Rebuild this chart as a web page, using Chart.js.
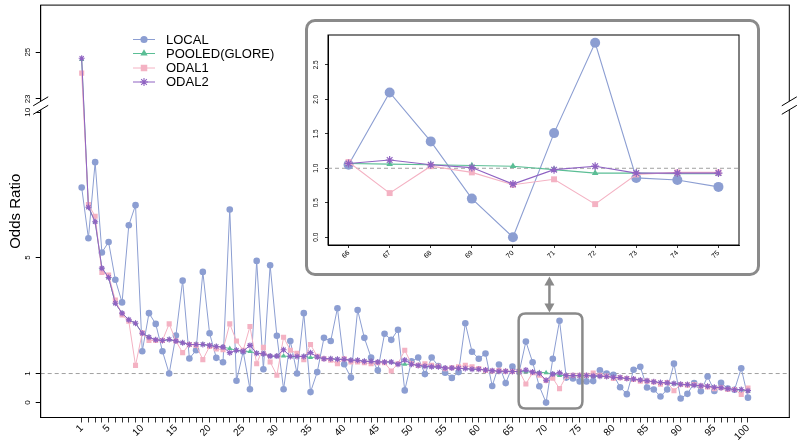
<!DOCTYPE html>
<html><head><meta charset="utf-8">
<script src="https://cdn.jsdelivr.net/npm/chart.js@4.4.1/dist/chart.umd.min.js"></script>
<style>
html,body{margin:0;padding:0;background:#fff;}
#wrap{position:relative;width:800px;height:440px;overflow:hidden;}
#main{position:absolute;left:0;top:0;}
#insetBox{position:absolute;left:305px;top:19px;width:455px;height:257px;box-sizing:border-box;border:3px solid #8a8a8a;border-radius:10px;background:#fff;}
#inset{display:block;}
</style></head>
<body>
<div id="wrap">
<canvas id="main" width="800" height="440"></canvas>
<div id="insetBox"><canvas id="inset" width="449" height="251"></canvas></div>
</div>
<script>
// ---------- DATA ----------
const caseIndex = Array.from({length:100},(_,i)=>i+1);
const xTickLabels = [1,5,10,15,20,25,30,35,40,45,50,55,60,65,70,75,80,85,90,95,100];
const yTickLabels = [0,1,5,10,23,25];
const insetCases = [66,67,68,69,70,71,72,73,74,75];
const insetYTicks = [0,0.5,1,1.5,2,2.5];
const seriesNames = ['LOCAL','POOLED(GLORE)','ODAL1','ODAL2'];

const LOCAL = [7.41,5.66,8.28,5.17,5.53,4.23,3.45,6.11,6.80,1.77,
 3.08,2.71,1.77,1.00,2.31,4.20,1.52,1.80,4.50,2.39,
 1.54,1.39,6.65,0.75,1.76,0.46,4.88,1.15,4.73,2.30,
 0.46,2.12,1.00,3.08,0.36,1.05,2.23,2.12,3.25,1.32,
 0.86,3.19,2.23,1.55,1.11,2.37,2.16,2.51,0.42,1.42,
 1.55,0.98,1.55,1.26,1.03,0.85,1.05,2.73,1.75,1.51,
 1.69,0.57,1.31,0.67,1.24,1.05,2.10,1.39,0.56,0.00,
 1.51,2.82,0.86,0.83,0.73,0.73,0.74,1.11,1.00,0.96,
 0.53,0.29,1.13,1.23,0.52,0.45,0.21,0.45,1.34,0.14,
 0.30,0.67,0.39,0.90,0.40,0.68,0.48,0.44,1.18,0.17];

const POOLED = [24.69,6.73,6.23,4.63,4.31,3.42,3.08,2.85,2.73,2.39,
 2.25,2.16,2.14,2.17,2.12,2.06,2.00,2.00,2.00,1.97,
 1.93,1.91,1.86,1.80,1.77,1.76,1.70,1.68,1.60,1.60,
 1.60,1.59,1.59,1.59,1.55,1.57,1.51,1.51,1.49,1.49,
 1.46,1.46,1.42,1.42,1.40,1.40,1.40,1.32,1.32,1.32,
 1.28,1.25,1.23,1.23,1.19,1.19,1.18,1.17,1.15,1.15,
 1.12,1.10,1.08,1.08,1.07,1.07,1.06,1.05,1.04,1.03,
 0.98,0.93,0.93,0.92,0.92,0.92,0.91,0.90,0.89,0.86,
 0.85,0.82,0.80,0.77,0.74,0.71,0.68,0.67,0.65,0.62,
 0.61,0.59,0.57,0.55,0.52,0.50,0.47,0.44,0.44,0.40];

const ODAL1 = [24.10,6.82,6.42,4.48,4.39,3.53,3.02,2.80,1.28,2.40,
 2.14,2.14,2.14,2.71,2.12,1.72,2.00,1.97,1.48,1.93,
 1.85,1.82,2.71,2.12,1.80,2.62,1.34,1.90,1.40,0.94,
 2.25,1.80,1.70,1.48,2.00,1.59,1.51,1.46,1.34,1.51,
 1.40,1.40,1.37,1.34,1.37,1.37,1.09,1.34,1.80,1.34,
 1.28,1.34,1.28,1.25,1.17,1.20,1.23,1.28,1.23,1.17,
 1.11,1.09,1.11,1.08,1.07,1.09,0.64,1.03,0.94,0.76,
 0.84,0.48,0.91,0.94,0.94,0.94,1.02,0.94,0.91,0.83,
 0.86,0.83,0.80,0.74,0.74,0.71,0.63,0.69,0.41,0.62,
 0.60,0.62,0.57,0.54,0.48,0.51,0.45,0.45,0.28,0.50];

const ODAL2 = [24.74,6.73,6.23,4.63,4.31,3.42,3.08,2.85,2.73,2.39,
 2.25,2.16,2.14,2.17,2.12,2.06,2.00,2.00,2.00,1.97,
 1.93,1.91,1.72,1.80,1.77,1.97,1.70,1.68,1.60,1.60,
 1.82,1.59,1.59,1.59,1.72,1.57,1.51,1.51,1.49,1.49,
 1.46,1.46,1.42,1.42,1.40,1.40,1.40,1.32,1.47,1.32,
 1.28,1.25,1.23,1.23,1.19,1.19,1.18,1.17,1.15,1.15,
 1.12,1.10,1.08,1.08,1.07,1.07,1.12,1.05,1.01,0.77,
 0.98,1.03,0.93,0.93,0.93,0.93,0.92,0.91,0.90,0.87,
 0.86,0.83,0.81,0.78,0.75,0.72,0.69,0.68,0.66,0.63,
 0.62,0.60,0.58,0.56,0.53,0.51,0.48,0.44,0.45,0.41];

// ---------- STYLE ----------
const FONT = '"Liberation Sans", Arial, Helvetica, sans-serif';
const COLORS = ['#8C9ED2', '#5BBE95', '#F4B2C3', '#8F62C2'];
const STYLES = ['circle', 'triangle', 'rect', 'star'];
const ORDERS = [4, 3, 2, 1];

// broken y-axis mapping (gap between 10 and 23)
const BREAK_LOW = 10, BREAK_HIGH = 23, GAP = 0.46, UPPER_SCALE = 0.805;
function toDisplay(v){ return v <= BREAK_LOW ? v : BREAK_LOW + GAP + (v - BREAK_HIGH) * UPPER_SCALE; }

const allSeries = [LOCAL, POOLED, ODAL1, ODAL2];

function drawMarker(ctx, style, radius, x, y, color, bw){
  ctx.save();
  ctx.fillStyle = color; ctx.strokeStyle = color; ctx.lineWidth = bw;
  if (Chart.helpers && Chart.helpers.drawPoint) {
    Chart.helpers.drawPoint(ctx, {pointStyle: style, radius: radius, rotation: 0, borderWidth: bw}, x, y);
  } else {
    ctx.beginPath(); ctx.arc(x, y, radius, 0, Math.PI*2); ctx.fill();
  }
  ctx.restore();
}

function rotatedYLabels(chart, values, labels, xCenter, font){
  const ctx = chart.ctx, ys = chart.scales.y;
  ctx.save(); ctx.fillStyle = '#000'; ctx.font = font;
  ctx.textAlign = 'center'; ctx.textBaseline = 'middle';
  values.forEach((v, i) => {
    ctx.save(); ctx.translate(xCenter, ys.getPixelForValue(v)); ctx.rotate(-Math.PI/2);
    ctx.fillText(String(labels[i]), 0, 0); ctx.restore();
  });
  ctx.restore();
}

function dashedOne(chart){
  const ctx = chart.ctx, a = chart.chartArea, py = chart.scales.y.getPixelForValue(1);
  ctx.save(); ctx.strokeStyle = '#a0a0a0'; ctx.lineWidth = 1; ctx.setLineDash([4,3]);
  ctx.beginPath(); ctx.moveTo(a.left, py); ctx.lineTo(a.right, py); ctx.stroke(); ctx.restore();
}

function drawBreak(ctx, x, yc){
  ctx.save();
  ctx.fillStyle = '#fff';
  ctx.beginPath();
  ctx.moveTo(x-7.5, yc-4.25+4.5); ctx.lineTo(x+7.5, yc-4.25-4.5);
  ctx.lineTo(x+7.5, yc+4.25-4.5); ctx.lineTo(x-7.5, yc+4.25+4.5); ctx.closePath(); ctx.fill();
  ctx.strokeStyle = '#000'; ctx.lineWidth = 1;
  [-4.25, 4.25].forEach(o => { ctx.beginPath(); ctx.moveTo(x-7.5, yc+o+4.5); ctx.lineTo(x+7.5, yc+o-4.5); ctx.stroke(); });
  ctx.restore();
}

function roundRectPath(ctx, x, y, w, h, r){
  ctx.beginPath();
  ctx.moveTo(x+r, y); ctx.lineTo(x+w-r, y); ctx.quadraticCurveTo(x+w, y, x+w, y+r);
  ctx.lineTo(x+w, y+h-r); ctx.quadraticCurveTo(x+w, y+h, x+w-r, y+h);
  ctx.lineTo(x+r, y+h); ctx.quadraticCurveTo(x, y+h, x, y+h-r);
  ctx.lineTo(x, y+r); ctx.quadraticCurveTo(x, y, x+r, y); ctx.closePath();
}

// ---------- MAIN CHART ----------
const mainDatasets = allSeries.map((arr, k) => ({
  label: seriesNames[k],
  data: arr.map((v, i) => ({x: caseIndex[i], y: toDisplay(v)})),
  borderColor: COLORS[k], backgroundColor: COLORS[k],
  pointBackgroundColor: COLORS[k], pointBorderColor: COLORS[k],
  pointStyle: STYLES[k],
  pointRadius: [3.3, 3.0, 3.6, 3.0][k],
  pointBorderWidth: [0, 0, 0, 1.1][k],
  borderWidth: 1, tension: 0, order: ORDERS[k]
}));

const mainPlugin = {
  id: 'mainDecor',
  beforeDatasetsDraw(chart){ dashedOne(chart); },
  afterDraw(chart){
    const ctx = chart.ctx, a = chart.chartArea, xs = chart.scales.x, ys = chart.scales.y;
    // frame
    ctx.save(); ctx.strokeStyle = '#000'; ctx.lineWidth = 1;
    ctx.strokeRect(a.left, a.top, a.right - a.left, a.bottom - a.top); ctx.restore();
    // y labels
    rotatedYLabels(chart, yTickLabels.map(toDisplay), yTickLabels, a.left - 12.5, '8px ' + FONT);
    // axis breaks
    const yc = (ys.getPixelForValue(BREAK_LOW) + ys.getPixelForValue(toDisplay(BREAK_HIGH))) / 2;
    drawBreak(ctx, a.left, yc); drawBreak(ctx, a.right, yc);
    // axis title
    ctx.save(); ctx.fillStyle = '#000'; ctx.font = '15px ' + FONT; ctx.textAlign = 'center'; ctx.textBaseline = 'middle';
    ctx.translate(16, (a.top + a.bottom) / 2); ctx.rotate(-Math.PI/2); ctx.fillText('Odds Ratio', 0, 0); ctx.restore();
    // legend
    const legY = [39.5, 53.5, 68, 82];
    seriesNames.forEach((name, k) => {
      ctx.save(); ctx.strokeStyle = COLORS[k]; ctx.lineWidth = 1;
      ctx.beginPath(); ctx.moveTo(133, legY[k]); ctx.lineTo(155, legY[k]); ctx.stroke(); ctx.restore();
      drawMarker(ctx, STYLES[k], [3.6, 4.2, 4.6, 4.0][k], 144, legY[k], COLORS[k], k === 3 ? 1.1 : 0);
      ctx.save(); ctx.fillStyle = '#000'; ctx.font = '13px ' + FONT; ctx.textAlign = 'left'; ctx.textBaseline = 'middle';
      ctx.fillText(name, 166, legY[k] + 0.5); ctx.restore();
    });
    // highlight box around cases 66-75
    const bx1 = xs.getPixelForValue(66) - 0.5, bx2 = xs.getPixelForValue(75.4);
    const by1 = ys.getPixelForValue(3.07), by2 = ys.getPixelForValue(-0.2);
    ctx.save(); ctx.strokeStyle = '#8a8a8a'; ctx.lineWidth = 2.5;
    roundRectPath(ctx, bx1, by1, bx2 - bx1, by2 - by1, 7); ctx.stroke();
    // double-headed arrow
    const ax = xs.getPixelForValue(70.5), at = 276.5, ab = by1 - 1;
    ctx.fillStyle = '#8a8a8a';
    ctx.beginPath(); ctx.moveTo(ax, at + 7); ctx.lineTo(ax, ab - 7); ctx.stroke();
    ctx.beginPath(); ctx.moveTo(ax, at); ctx.lineTo(ax - 5, at + 9); ctx.lineTo(ax + 5, at + 9); ctx.closePath(); ctx.fill();
    ctx.beginPath(); ctx.moveTo(ax, ab); ctx.lineTo(ax - 5, ab - 9); ctx.lineTo(ax + 5, ab - 9); ctx.closePath(); ctx.fill();
    ctx.restore();
  }
};

new Chart(document.getElementById('main'), {
  type: 'line',
  data: { datasets: mainDatasets },
  plugins: [mainPlugin],
  options: {
    responsive: false, animation: false, devicePixelRatio: 1,
    layout: { padding: { top: 2.7, right: 10.7, left: 0, bottom: 0 } },
    plugins: { legend: { display: false }, tooltip: { enabled: false } },
    scales: {
      x: {
        type: 'linear', min: -5.09, max: 106.14,
        afterBuildTicks: s => { s.ticks = caseIndex.map(v => ({value: v})); },
        afterFit: s => { s.height = 22.5; },
        grid: { drawOnChartArea: false, drawTicks: true, tickLength: 5, color: '#000', lineWidth: 0.8 },
        border: { display: true, color: '#000', width: 1 },
        ticks: { autoSkip: false, minRotation: 45, maxRotation: 45, padding: 0, color: '#000',
                 font: { size: 10, family: FONT },
                 callback: v => xTickLabels.includes(v) ? String(v) : '' }
      },
      y: {
        type: 'linear', min: -0.514, max: 13.69,
        afterBuildTicks: s => { s.ticks = yTickLabels.map(v => ({value: toDisplay(v)})); },
        afterFit: s => { s.width = 40.7; },
        grid: { drawOnChartArea: false, drawTicks: true, tickLength: 5, color: '#000', lineWidth: 1 },
        border: { display: true, color: '#000', width: 1 },
        ticks: { display: false }
      }
    }
  }
});

// ---------- INSET CHART ----------
const insetDatasets = allSeries.map((arr, k) => ({
  label: seriesNames[k],
  data: insetCases.map(c => ({x: c, y: arr[c - 1]})),
  borderColor: COLORS[k], backgroundColor: COLORS[k],
  pointBackgroundColor: COLORS[k], pointBorderColor: COLORS[k],
  pointStyle: STYLES[k],
  pointRadius: [5, 3.8, 4.2, 4.0][k],
  pointBorderWidth: [0, 0, 0, 1.2][k],
  borderWidth: 1.1, tension: 0, order: ORDERS[k]
}));

const insetPlugin = {
  id: 'insetDecor',
  beforeDatasetsDraw(chart){ dashedOne(chart); },
  afterDraw(chart){
    const ctx = chart.ctx, a = chart.chartArea;
    ctx.save(); ctx.strokeStyle = '#000'; ctx.lineWidth = 1;
    ctx.strokeRect(a.left, a.top, a.right - a.left, a.bottom - a.top); ctx.restore();
    rotatedYLabels(chart, insetYTicks, insetYTicks.map(v => v.toFixed(1)), a.left - 12, '6.5px ' + FONT);
  }
};

new Chart(document.getElementById('inset'), {
  type: 'line',
  data: { datasets: insetDatasets },
  plugins: [insetPlugin],
  options: {
    responsive: false, animation: false, devicePixelRatio: 1,
    layout: { padding: { top: 13, right: 18, left: 0, bottom: 0 } },
    plugins: { legend: { display: false }, tooltip: { enabled: false } },
    scales: {
      x: {
        type: 'linear', min: 65.5, max: 75.5,
        afterBuildTicks: s => { s.ticks = insetCases.map(v => ({value: v})); },
        afterFit: s => { s.height = 28; },
        grid: { drawOnChartArea: false, drawTicks: true, tickLength: 3, color: '#000', lineWidth: 0.8 },
        border: { display: true, color: '#000', width: 1 },
        ticks: { autoSkip: false, minRotation: 45, maxRotation: 45, padding: 1, color: '#000',
                 font: { size: 7, family: FONT }, callback: v => String(v) }
      },
      y: {
        type: 'linear', min: -0.113, max: 2.933,
        afterBuildTicks: s => { s.ticks = insetYTicks.map(v => ({value: v})); },
        afterFit: s => { s.width = 20; },
        grid: { drawOnChartArea: false, drawTicks: true, tickLength: 3, color: '#000', lineWidth: 0.8 },
        border: { display: true, color: '#000', width: 1 },
        ticks: { display: false }
      }
    }
  }
});
</script>
</body></html>
